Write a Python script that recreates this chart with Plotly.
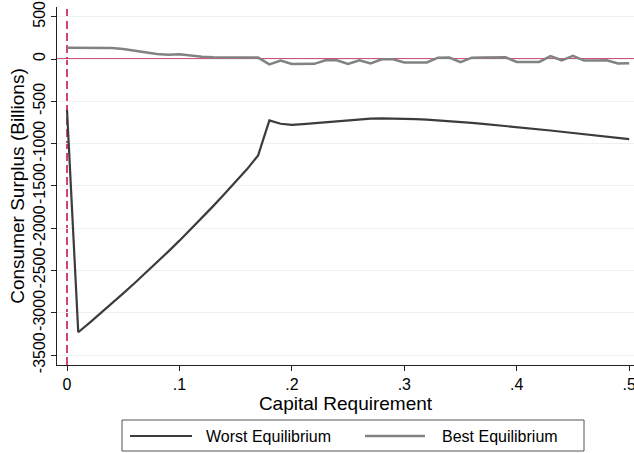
import plotly.graph_objects as go

capital_req = [round(i * 0.01, 2) for i in range(51)]

worst_eq = [-600, -3230, -3118, -3004, -2888, -2770, -2650, -2528, -2404, -2277,
            -2147, -2014, -1878, -1739, -1597, -1452, -1304, -1140, -725, -765,
            -778, -770, -758, -745, -732, -720, -712, -705, -702, -702,
            -705, -710, -716, -724, -733, -743, -754, -766, -778, -790,
            -803, -816, -830, -845, -860, -875, -890, -905, -920, -933, -946]

best_eq = [134, 133, 132, 132, 130, 118, 98, 79, 60, 50,
           55, 42, 27, 22, 20, 18, 18, 17, -63, -18,
           -59, -58, -57, -14, -14, -59, -14, -51, -3, -2,
           -40, -40, -40, 16, 17, -38, 16, 17, 18, 20,
           -35, -35, -34, 35, -15, 39, -18, -16, -14, -53, -51]

series_names = ["Worst Equilibrium", "Best Equilibrium"]
series_colors = ["#3c3c3c", "#828282"]
series_widths = [2.2, 2.5]

x_tickvals = [0, 0.1, 0.2, 0.3, 0.4, 0.5]
x_ticktext = ["0", ".1", ".2", ".3", ".4", ".5"]
y_tickvals = [500, 0, -500, -1000, -1500, -2000, -2500, -3000, -3500]
y_ticktext = [str(v) for v in y_tickvals]

FONT = "Liberation Sans, Arial, Helvetica, sans-serif"
RED = "#c8174e"

W, H = 634, 453
ML, MR, MT, MB = 57, 0, 7, 88
PW, PH = W - ML - MR, H - MT - MB


def px_x(p):
    return (p - ML) / PW


def px_y(p):
    return (H - MB - p) / PH


fig = go.Figure()
for name, ys, col, lw in zip(series_names, [worst_eq, best_eq], series_colors, series_widths):
    fig.add_trace(go.Scatter(x=capital_req, y=ys, mode="lines", name=name,
                             line=dict(color=col, width=lw), showlegend=False))

fig.update_layout(
    width=W, height=H,
    margin=dict(l=ML, r=MR, t=MT, b=MB),
    paper_bgcolor="white", plot_bgcolor="white",
    font=dict(family=FONT, size=16, color="black"),
    showlegend=False,
    xaxis=dict(range=[-0.0089, 0.5043], tickvals=x_tickvals, ticktext=x_ticktext,
               showgrid=False, zeroline=False, showline=True, linecolor="#222222",
               linewidth=1, ticks="outside", ticklen=5, tickcolor="#222222",
               automargin=False, ticklabeloverflow="allow",
               title=dict(text="Capital Requirement", standoff=2),
               tickfont=dict(size=16)),
    yaxis=dict(range=[-3617, 615], tickvals=y_tickvals, ticktext=y_ticktext,
               showgrid=True, gridcolor="#eaf2f3", gridwidth=1,
               zeroline=False, showline=True, linecolor="#222222", linewidth=1,
               ticks="outside", ticklen=5, tickcolor="#222222", tickangle=-90,
               automargin=False,
               title=dict(text="Consumer Surplus (Billions)", standoff=0),
               tickfont=dict(size=16)),
)

fig.add_hline(y=0, line=dict(color=RED, width=1.6), layer="below")
fig.add_vline(x=0, line=dict(color=RED, width=1.6, dash="8px,4px"), layer="below")

# legend box drawn below the plot (Stata style)
fig.add_shape(type="rect", xref="paper", yref="paper",
              x0=px_x(122), x1=px_x(584), y0=px_y(451), y1=px_y(420),
              line=dict(color="#555555", width=1), fillcolor="white")
legend_items = [(130, 192, 204), (365, 425, 440)]
for (l0, l1, tx), name, col, lw in zip(legend_items, series_names, series_colors, series_widths):
    fig.add_shape(type="line", xref="paper", yref="paper",
                  x0=px_x(l0), x1=px_x(l1), y0=px_y(436), y1=px_y(436),
                  line=dict(color=col, width=lw))
    fig.add_annotation(xref="paper", yref="paper", x=px_x(tx), y=px_y(436),
                       xanchor="left", yanchor="middle", text=name,
                       showarrow=False, font=dict(size=16))

fig.write_html("out.html", config={"displayModeBar": False},
               post_script="document.body.style.margin='0';document.body.style.padding='0';")
